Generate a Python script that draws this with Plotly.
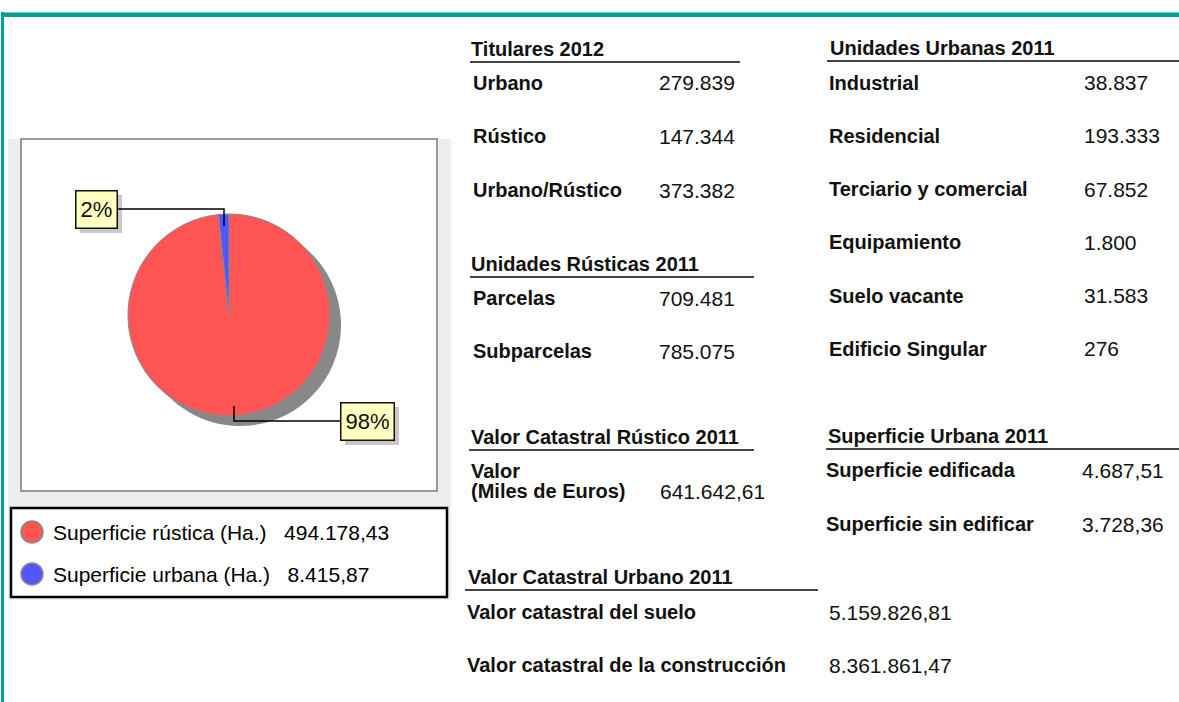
import plotly.graph_objects as go

W, H = 1179, 702

# --- data ---
superficie_labels = ['Superficie rústica (Ha.)', 'Superficie urbana (Ha.)']
superficie_values = [494178.43, 8415.87]
superficie_colors = ['#FF5555', '#5555FF']

titulares_labels = ['Urbano', 'Rústico', 'Urbano/Rústico']
titulares_values = [279839, 147344, 373382]

rusticas_labels = ['Parcelas', 'Subparcelas']
rusticas_values = [709481, 785075]

urbanas_labels = ['Industrial', 'Residencial', 'Terciario y comercial',
                  'Equipamiento', 'Suelo vacante', 'Edificio Singular']
urbanas_values = [38837, 193333, 67852, 1800, 31583, 276]

vc_rustico_labels = ['Valor<br>(Miles de Euros)']
vc_rustico_values = [641642.61]

sup_urbana_labels = ['Superficie edificada', 'Superficie sin edificar']
sup_urbana_values = [4687.51, 3728.36]

vc_urbano_labels = ['Valor catastral del suelo', 'Valor catastral de la construcción']
vc_urbano_values = [5159826.81, 8361861.47]

FONT = 'Liberation Sans, Arial, sans-serif'
TEAL = '#009E99'


def X(px):
    return px / W


def Y(py):
    return 1 - py / H


def es_num(v):
    # spanish formatting: 1.234.567,89
    if isinstance(v, int):
        return f'{v:,}'.replace(',', '.')
    s = f'{v:,.2f}'
    return s.replace(',', '#').replace('.', ',').replace('#', '.')


fig = go.Figure()

# pie shadow + pie
dom_x = [X(128), X(330)]
dom_y = [Y(416), Y(214)]
fig.add_trace(go.Pie(values=superficie_values, labels=superficie_labels,
                     marker=dict(colors=['#888888'] * 2, line=dict(width=0)),
                     direction='clockwise', sort=False, textinfo='none',
                     hoverinfo='skip', showlegend=False,
                     domain=dict(x=[X(139), X(341)], y=[Y(426), Y(224)])))
fig.add_trace(go.Pie(values=superficie_values, labels=superficie_labels,
                     marker=dict(colors=superficie_colors, line=dict(color='#8a8a8a', width=1)),
                     direction='clockwise', sort=False, textinfo='none',
                     showlegend=False, domain=dict(x=dom_x, y=dom_y)))

shapes = []
annotations = []


def rect(x0, y0, x1, y1, fill=None, line=None, lw=0, layer='below'):
    shapes.append(dict(type='rect', xref='paper', yref='paper',
                       x0=X(x0), x1=X(x1), y0=Y(y1), y1=Y(y0),
                       fillcolor=fill or 'rgba(0,0,0,0)',
                       line=dict(color=line or 'rgba(0,0,0,0)', width=lw),
                       layer=layer))


def seg(pts, color='black', lw=1.5):
    path = 'M ' + ' L '.join(f'{X(a)},{Y(b)}' for a, b in pts)
    shapes.append(dict(type='path', xref='paper', yref='paper', path=path,
                       line=dict(color=color, width=lw), layer='above'))


def text(x, y, s, size=20, bold=False, color='#111111', anchor='left'):
    # annotations carry ~2px inner padding, pull them back
    annotations.append(dict(x=X(x - 2), y=Y(y), xref='paper', yref='paper', text=s,
                            showarrow=False, xanchor=anchor, yanchor='middle',
                            font=dict(family=FONT, size=size, color=color,
                                      weight='bold' if bold else 'normal')))


# frame
rect(1, 12, W, 17, fill=TEAL)
rect(1, 12, W, 13, fill='#7FCFCC')
rect(1, 12, 4, H, fill=TEAL)

# chart panel
rect(8, 139, 451, 600, fill='#EEEEEE')
rect(21, 139, 437, 491, fill='white', line='#999999', lw=2)
rect(11, 508, 447, 597, fill='white', line='black', lw=2.5)

# percentage labels with leaders
total = sum(superficie_values)
pcts = [round(v / total * 100) for v in superficie_values]
pct_boxes = [(367, 421), (96, 209)]  # box centres for rústica, urbana
leaders = [[(340, 421), (234, 421), (234, 406)],
           [(118, 209), (224, 209), (224, 226)]]
for p, (cx, cy), pts in zip(pcts, pct_boxes, leaders):
    bw = 54 if p >= 10 else 42
    rect(cx - bw / 2 + 5, cy - 19 + 5, cx + bw / 2 + 5, cy + 19 + 5, fill='#C8C8C8', layer='above')
    seg(pts)
    annotations.append(dict(x=X(cx), y=Y(cy), xref='paper', yref='paper', text=f'{p}%',
                            showarrow=False, xanchor='center', yanchor='middle',
                            width=bw - 2, height=36, bgcolor='#FFFFC0',
                            bordercolor='#111111', borderwidth=1.5, borderpad=0,
                            font=dict(family=FONT, size=22, color='#111111')))

# legend
for i, (lab, val, col) in enumerate(zip(superficie_labels, superficie_values, superficie_colors)):
    yy = 532 + i * 42
    shapes.append(dict(type='circle', xref='paper', yref='paper',
                       x0=X(21), x1=X(43), y0=Y(yy + 11), y1=Y(yy - 11),
                       fillcolor=col, line=dict(color='#8a8a8a', width=1.5), layer='above'))
    text(53, yy, lab + '\u00a0' * 3 + es_num(val), size=21, color='black')


def section(title, tx, ty, lx0, lx1, labels, values, label_x, value_x, y0, dy):
    text(tx, ty, title, size=20, bold=True)
    seg([(lx0, ty + 13), (lx1, ty + 13)], color='#444444', lw=2)
    for i, (lab, val) in enumerate(zip(labels, values)):
        yy = y0 + i * dy
        lines = lab.split('<br>')
        for j, ln in enumerate(lines):
            text(label_x, yy - (len(lines) - 1 - j) * 20, ln, size=20, bold=True)
        text(value_x, yy, es_num(val), size=21)


section('Titulares 2012', 471, 49, 470, 740, titulares_labels, titulares_values,
        473, 659, 83, 53.5)
section('Unidades Rústicas 2011', 471, 264, 470, 754, rusticas_labels, rusticas_values,
        473, 659, 298, 53)
section('Unidades Urbanas 2011', 830, 48, 827, W, urbanas_labels, urbanas_values,
        829, 1084, 82.5, 53.3)
section('Valor Catastral Rústico 2011', 471, 437, 469, 754, vc_rustico_labels, vc_rustico_values,
        471, 660, 491, 0)
section('Superficie Urbana 2011', 828, 436, 826, W, sup_urbana_labels, sup_urbana_values,
        826, 1082, 470, 54)
section('Valor Catastral Urbano 2011', 468, 577, 465, 818, vc_urbano_labels, vc_urbano_values,
        467, 829, 612, 53)

fig.update_layout(width=W, height=H, margin=dict(l=0, r=0, t=0, b=0),
                  paper_bgcolor='white', plot_bgcolor='white',
                  shapes=shapes, annotations=annotations, showlegend=False)

fig.write_html('out.html', config={'displayModeBar': False},
               post_script="document.body.style.margin='0';")
